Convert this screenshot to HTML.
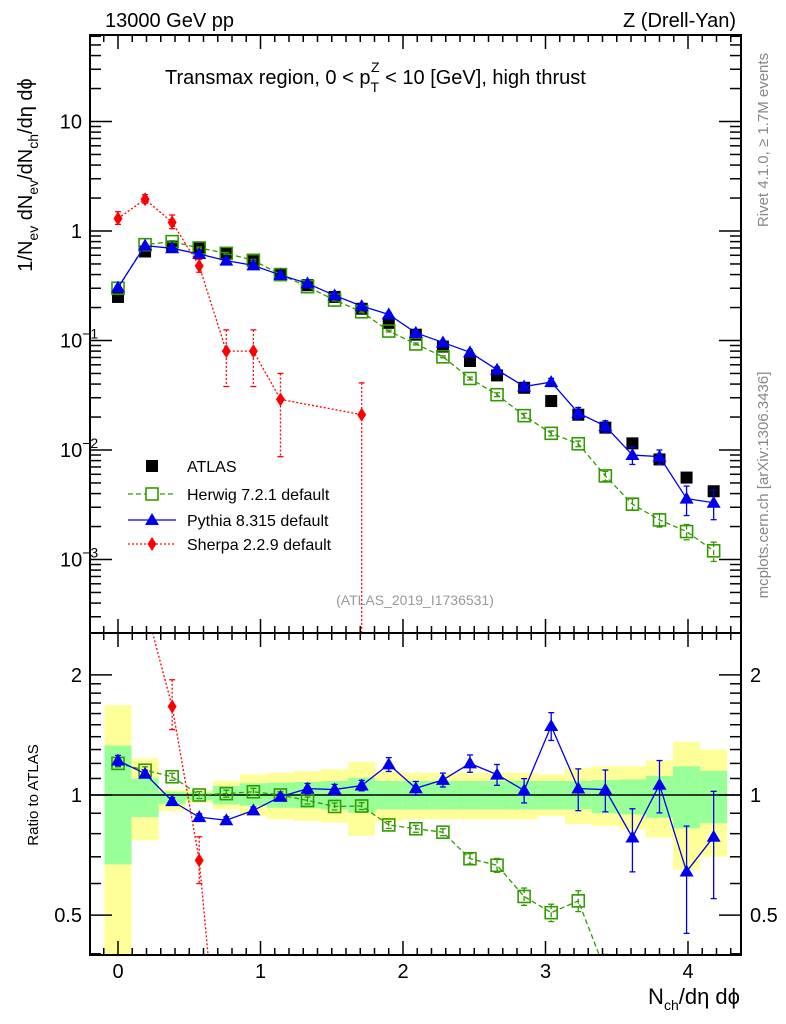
<!DOCTYPE html>
<html><head><meta charset="utf-8"><style>
body{margin:0;background:#fff;overflow:hidden}
svg{display:block;font-family:"Liberation Sans",sans-serif}
</style></head><body>
<svg id="c" width="786" height="1024" viewBox="0 0 786 1024"></svg>
<script>
const xs=[0,0.19,0.38,0.57,0.76,0.95,1.14,1.33,1.52,1.71,1.90,2.09,2.28,2.47,2.66,2.85,3.04,3.23,3.42,3.61,3.80,3.99,4.18];
const atlas=[0.25,0.65,0.72,0.70,0.62,0.53,0.40,0.32,0.25,0.195,0.145,0.113,0.088,0.065,0.048,0.037,0.028,0.021,0.016,0.0115,0.0082,0.0056,0.0042];
const herwig=[0.30,0.75,0.80,0.70,0.625,0.54,0.40,0.31,0.234,0.183,0.122,0.093,0.071,0.045,0.032,0.0206,0.0142,0.0114,0.0058,0.0032,0.0023,0.0018,0.0012];
const herwigErr=[0.02,0.02,0.02,0.02,0.02,0.02,0.02,0.02,0.02,0.02,0.02,0.02,0.02,0.03,0.04,0.05,0.05,0.06,0.1,0.12,0.14,0.16,0.2];
const pythia=[0.305,0.735,0.695,0.616,0.536,0.485,0.396,0.332,0.258,0.206,0.173,0.1175,0.096,0.078,0.054,0.038,0.0417,0.0218,0.0165,0.009,0.0087,0.0036,0.0033];
const pythiaErr=[0.03,0.02,0.02,0.02,0.02,0.02,0.02,0.03,0.03,0.03,0.04,0.04,0.04,0.05,0.06,0.07,0.08,0.12,0.12,0.18,0.15,0.3,0.3];
const sherpaX=[0,0.19,0.38,0.57,0.76,0.95,1.14,1.71];
const sherpa=[1.3,1.95,1.2,0.48,0.08,0.08,0.029,0.021];
const sherpaUp=[1.5,2.15,1.4,0.55,0.125,0.125,0.05,0.041];
const sherpaLo=[1.15,1.8,1.05,0.42,0.038,0.038,0.0087,0.0001];
const yelUp=[1.68,1.235,1.033,1.027,1.084,1.127,1.137,1.148,1.16,1.21,1.148,1.137,1.137,1.137,1.137,1.137,1.127,1.17,1.182,1.182,1.221,1.36,1.30];
const yelLo=[0.2,0.77,0.912,0.956,0.92,0.886,0.869,0.861,0.852,0.79,0.861,0.869,0.869,0.869,0.869,0.869,0.886,0.845,0.836,0.82,0.782,0.65,0.70];
const grnUp=[1.33,1.10,1.02,1.015,1.053,1.07,1.074,1.078,1.084,1.105,1.084,1.084,1.084,1.084,1.084,1.084,1.084,1.084,1.09,1.094,1.116,1.18,1.15];
const grnLo=[0.67,0.88,0.95,0.97,0.947,0.94,0.929,0.926,0.92,0.903,0.92,0.92,0.92,0.92,0.92,0.92,0.92,0.92,0.9,0.894,0.877,0.825,0.85];
const xTicks=[0,1,2,3,4];

const L=90,R=741,T=35,M=633,B=955;
const X=v=>118+v*142.5;
const Y=v=>231-109.5*Math.log10(v);
const RY=r=>795-399*Math.log10(r);
const svg=document.getElementById('c');
const NS='http://www.w3.org/2000/svg';
function mk(tag,at,parent){const e=document.createElementNS(NS,tag);for(const k in at)e.setAttribute(k,at[k]);(parent||svg).appendChild(e);return e;}
function txt(s,x,y,at){const e=mk('text',Object.assign({x:x,y:y,'font-size':20},at||{}));e.innerHTML=s;return e;}

const defs=mk('defs',{});
const c1=mk('clipPath',{id:'cm'},defs);mk('rect',{x:L,y:T,width:R-L,height:M-T},c1);
const c2=mk('clipPath',{id:'cr'},defs);mk('rect',{x:L,y:M,width:R-L,height:B-M},c2);

const gB=mk('g',{'clip-path':'url(#cr)'});


xs.forEach((x,i)=>{
  const x0=X(x-0.095),w=X(x+0.095)-x0;
  const y=mk('rect',{x:x0,y:RY(yelUp[i]),width:w,height:RY(Math.max(yelLo[i],0.01))-RY(yelUp[i]),fill:'#ffff99'},gB);
  
  
  const g=mk('rect',{x:x0,y:RY(grnUp[i]),width:w,height:RY(grnLo[i])-RY(grnUp[i]),fill:'#99ff99'},gB);
  
  
});
mk('line',{x1:L,x2:R,y1:RY(1),y2:RY(1),stroke:'#000','stroke-width':1.5},gB);

function series(parent,xv,yv,fy,color,dash,marker,name,errs){
  const g=mk('g',{},parent);
  
  
  const pts=xv.map((x,i)=>X(x)+','+fy(yv[i],i)).join(' ');
  mk('polyline',{points:pts,fill:'none',stroke:color,'stroke-width':1.3,'stroke-dasharray':dash},g);
  xv.forEach((x,i)=>{
    const cx=X(x),cy=fy(yv[i],i);
    if(errs){const [u,l]=errs(i);mk('line',{x1:cx,x2:cx,y1:u,y2:l,stroke:color,'stroke-width':1.3,'stroke-dasharray':dash},g);
      mk('line',{x1:cx-3,x2:cx+3,y1:u,y2:u,stroke:color,'stroke-width':1.3},g);mk('line',{x1:cx-3,x2:cx+3,y1:l,y2:l,stroke:color,'stroke-width':1.3},g);}
    let m;
    if(marker==='sq')m=mk('rect',{x:cx-6,y:cy-6,width:12,height:12,fill:'none',stroke:color,'stroke-width':1.6},g);
    else if(marker==='tri')m=mk('polygon',{points:`${cx},${cy-7} ${cx-7},${cy+5} ${cx+7},${cy+5}`,fill:color},g);
    else if(marker==='dia')m=mk('polygon',{points:`${cx},${cy-7} ${cx-4.5},${cy} ${cx},${cy+7} ${cx+4.5},${cy}`,fill:color},g);
    else m=mk('rect',{x:cx-6,y:cy-6,width:12,height:12,fill:color},g);
    
    
  });
}
const gM=mk('g',{'clip-path':'url(#cm)'});
series(gM,xs,atlas,v=>Y(v),'#000','none','full','atlas-data');
gM.lastChild.querySelector('polyline').remove();
series(gM,xs,herwig,v=>Y(v),'#339900','5,3','sq','herwig-series',i=>[Y(herwig[i]*(1+herwigErr[i])),Y(herwig[i]*(1-herwigErr[i]))]);
series(gM,xs,pythia,v=>Y(v),'#0000ee','none','tri','pythia-series',i=>[Y(pythia[i]*(1+pythiaErr[i])),Y(pythia[i]*(1-pythiaErr[i]))]);
series(gM,sherpaX,sherpa,v=>Y(v),'#ff0000','2,2','dia','sherpa-series',i=>[Y(sherpaUp[i]),Y(sherpaLo[i])]);
const gR=mk('g',{'clip-path':'url(#cr)'});
series(gR,xs,herwig,(v,i)=>RY(v/atlas[i]),'#339900','5,3','sq','herwig-ratio',i=>[RY(herwig[i]/atlas[i]*(1+herwigErr[i])),RY(herwig[i]/atlas[i]*(1-herwigErr[i]))]);
series(gR,xs,pythia,(v,i)=>RY(v/atlas[i]),'#0000ee','none','tri','pythia-ratio',i=>[RY(pythia[i]/atlas[i]*(1+pythiaErr[i])),RY(pythia[i]/atlas[i]*(1-pythiaErr[i]))]);
series(gR,sherpaX,sherpa,(v,i)=>RY(v/atlas[i]),'#ff0000','2,2','dia','sherpa-ratio',i=>[RY(sherpaUp[i]/atlas[i]),RY(Math.max(sherpaLo[i],0.001)/atlas[i])]);

mk('rect',{x:L,y:T,width:R-L,height:M-T,fill:'none',stroke:'#000','stroke-width':2});
mk('rect',{x:L,y:M,width:R-L,height:B-M,fill:'none',stroke:'#000','stroke-width':2});
const tk=mk('g',{stroke:'#000','stroke-width':1.5});


for(let v=-0.1;v<=4.4;v+=0.1){const x=X(v);if(x<L||x>R)continue;const maj=Math.abs(v-Math.round(v))<0.01;const l=maj?14:7;
  [[T,1],[M,-1],[M,1],[B,-1]].forEach(([y,d])=>mk('line',{x1:x,x2:x,y1:y,y2:y+d*l},tk));}
xTicks.forEach(v=>{const t=txt(String(v),X(v),978,{'text-anchor':'middle'});});
for(let e=-4;e<=1;e++){for(let k=1;k<10;k++){const v=k*Math.pow(10,e);const y=Y(v);if(y<T||y>M)continue;const l=k===1?22:11;
  mk('line',{x1:L,x2:L+l,y1:y,y2:y},tk);mk('line',{x1:R,x2:R-l,y1:y,y2:y},tk);}}
const yl=[['10',10],['1',1],['10<tspan dy="-9" font-size="14">−1</tspan>',0.1],['10<tspan dy="-9" font-size="14">−2</tspan>',0.01],['10<tspan dy="-9" font-size="14">−3</tspan>',0.001]];
yl.forEach(([s,v])=>{const t=txt(s,v>=1?82:60,Y(v)+7,{'text-anchor':v>=1?'end':'start'});});
for(let r=0.4;r<=2.5;r+=(r<2?0.1:0.5)){const y=RY(r);if(y<M||y>B)continue;const maj=[0.5,1,2].some(q=>Math.abs(q-r)<0.01);const l=maj?22:11;
  mk('line',{x1:L,x2:L+l,y1:y,y2:y},tk);mk('line',{x1:R,x2:R-l,y1:y,y2:y},tk);}
[[2,'2'],[1,'1'],[0.5,'0.5']].forEach(([r,s])=>{const a=txt(s,82,RY(r)+7,{'text-anchor':'end'});
  const b=txt(s,750,RY(r)+7);});

let t;
t=txt('13000 GeV pp',105,27);
t=txt('Z (Drell-Yan)',736,27,{'text-anchor':'end'});
t=txt('Transmax region, 0 &lt; p<tspan dy="8" font-size="14">T</tspan><tspan dy="-20" dx="-8" font-size="14">Z</tspan><tspan dy="12"> &lt; 10 [GeV], high thrust</tspan>',165,84);
t=txt('(ATLAS_2019_I1736531)',415,605,{'text-anchor':'middle','font-size':14,fill:'#999'});
t=txt('Rivet 4.1.0, ≥ 1.7M events',768,140,{'text-anchor':'middle','font-size':15,fill:'#888',transform:'rotate(-90 768 140)'});
t=txt('mcplots.cern.ch [arXiv:1306.3436]',768,485,{'text-anchor':'middle','font-size':15,fill:'#888',transform:'rotate(-90 768 485)'});
t=txt('1/N<tspan dy="6" font-size="14">ev</tspan><tspan dy="-6"> dN</tspan><tspan dy="6" font-size="14">ev</tspan><tspan dy="-6">/dN</tspan><tspan dy="6" font-size="14">ch</tspan><tspan dy="-6">/dη dϕ</tspan>',32,175,{'text-anchor':'middle',transform:'rotate(-90 32 175)'});
t=txt('Ratio to ATLAS',38,795,{'text-anchor':'middle','font-size':15,transform:'rotate(-90 38 795)'});
t=txt('N<tspan dy="6" font-size="14">ch</tspan><tspan dy="-6">/dη dϕ</tspan>',740,1004,{'text-anchor':'end','font-size':22});

const lg=mk('g',{});


const leg=[['ATLAS','#000','none','full',466],['Herwig 7.2.1 default','#339900','5,3','sq',494],['Pythia 8.315 default','#0000ee','none','tri',520],['Sherpa 2.2.9 default','#ff0000','2,2','dia',544]];
leg.forEach(([s,c,d,m,y])=>{
  const e=mk('g',{},lg);
  
  
  const cx=152;
  if(m!=='full')mk('line',{x1:128,x2:176,y1:y,y2:y,stroke:c,'stroke-width':1.3,'stroke-dasharray':d},e);
  if(m==='sq')mk('rect',{x:cx-6,y:y-6,width:12,height:12,fill:'#fff',stroke:c,'stroke-width':1.6},e);
  else if(m==='tri')mk('polygon',{points:`${cx},${y-7} ${cx-7},${y+5} ${cx+7},${y+5}`,fill:c},e);
  else if(m==='dia')mk('polygon',{points:`${cx},${y-7} ${cx-4.5},${y} ${cx},${y+7} ${cx+4.5},${y}`,fill:c},e);
  else mk('rect',{x:cx-6,y:y-6,width:12,height:12,fill:c},e);
  const tt=mk('text',{x:187,y:y+6,'font-size':16},e);tt.textContent=s;
});
</script>
</body></html>
